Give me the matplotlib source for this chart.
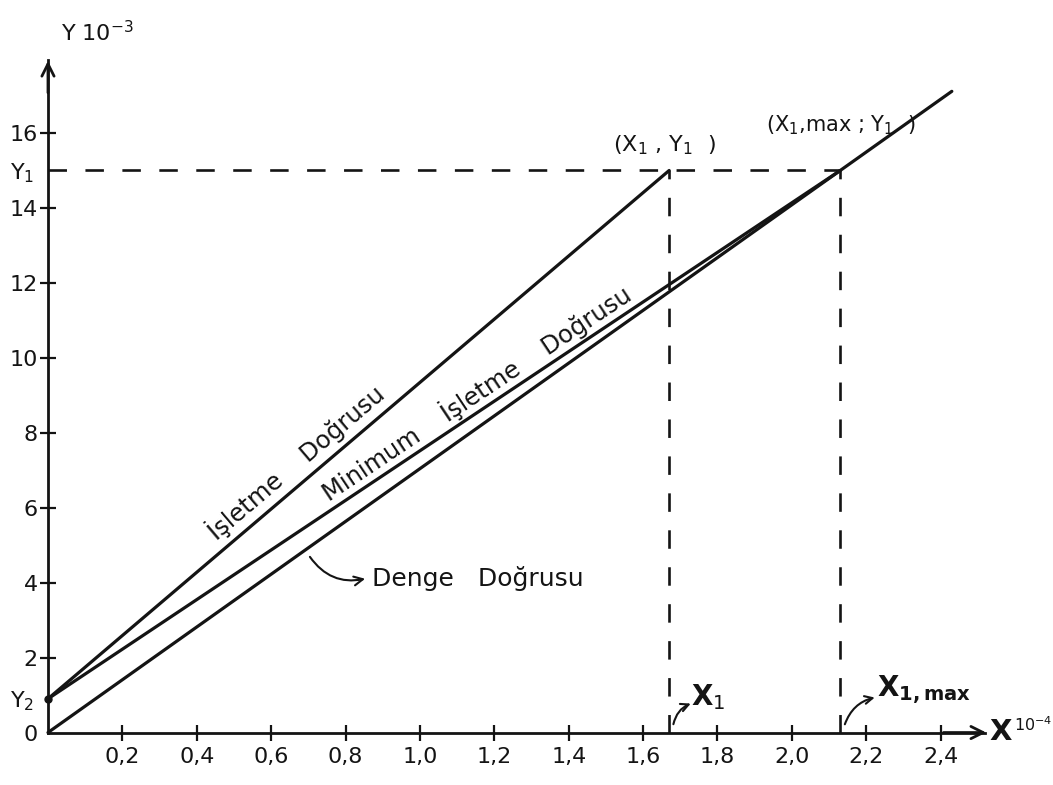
import numpy as np
import matplotlib.pyplot as plt

# ---- values (X in 1e-4, Y in 1e-3) ----
x1 = 1.67          # X1
x1_max = 2.13      # X1,max
y1 = 15.0          # Y1
y2 = 0.9           # Y2
x_end_denge = 2.43

x_ticks = [0.2, 0.4, 0.6, 0.8, 1.0, 1.2, 1.4, 1.6, 1.8, 2.0, 2.2, 2.4]
x_labels = ["0,2", "0,4", "0,6", "0,8", "1,0", "1,2", "1,4", "1,6", "1,8", "2,0", "2,2", "2,4"]
y_ticks = [0, 2, 4, 6, 8, 10, 12, 14, 16]
y_labels = ["0", "2", "4", "6", "8", "10", "12", "14", "16"]

# lines
islet_x = [0, x1]
islet_y = [y2, y1]
min_x = [0, x1_max]
min_y = [y2, y1]
denge_slope = y1 / x1_max
denge_x = [0, x_end_denge]
denge_y = [0, denge_slope * x_end_denge]

ink = "#141414"
FS = 16

fig = plt.figure(figsize=(10.53, 7.85), dpi=100)
ax = fig.add_axes([0, 0, 1, 1])
ax.set_xlim(-0.129, 2.702)
ax.set_ylim(-1.40, 19.55)

# =========================
# AXES
# =========================
for s in ["top", "right"]:
    ax.spines[s].set_visible(False)
ax.spines["left"].set_position(("data", 0))
ax.spines["bottom"].set_position(("data", 0))
ax.spines["left"].set_bounds(0, 17.95)
ax.spines["bottom"].set_bounds(0, 2.52)
for s in ["left", "bottom"]:
    ax.spines[s].set_linewidth(2.0)
    ax.spines[s].set_color(ink)

ax.set_xticks(x_ticks)
ax.set_xticklabels(x_labels)
ax.set_yticks(y_ticks)
ax.set_yticklabels(y_labels)
ax.tick_params(direction="inout", length=11, width=1.6, colors=ink, labelsize=FS)
ax.tick_params(axis="y", pad=2)
ax.tick_params(axis="x", pad=5)
ax.yaxis.get_major_ticks()[0].tick1line.set_visible(False)

# Y1, Y2 labels as minor ticks
ax.set_yticks([y2, y1], minor=True)
ax.set_yticklabels(["Y$_2$", "Y$_1$"], minor=True)
ax.tick_params(axis="y", which="minor", length=0, labelsize=FS, colors=ink, pad=10)

# arrow heads
ax.annotate("", xy=(0, 18.0), xytext=(0, 17.0),
            arrowprops=dict(arrowstyle="->", lw=2.0, color=ink, mutation_scale=22))
ax.annotate("", xy=(2.53, 0), xytext=(2.40, 0),
            arrowprops=dict(arrowstyle="->", lw=2.0, color=ink, mutation_scale=22))

ax.text(0.035, 18.35, "Y 10$^{-3}$", fontsize=FS, color=ink, ha="left", va="bottom")
ax.text(2.53, 0.02, "X", fontsize=21, fontweight="bold", color=ink, ha="left", va="center")
ax.text(2.596, 0.2, "10$^{-4}$", fontsize=11.5, color=ink, ha="left", va="center")

# =========================
# LINES
# =========================
ax.plot(islet_x, islet_y, color=ink, lw=2.3, solid_capstyle="round")
ax.plot(min_x, min_y, color=ink, lw=2.3, solid_capstyle="round")
ax.plot(denge_x, denge_y, color=ink, lw=2.3, solid_capstyle="round")
ax.plot([0], [y2], "o", color=ink, ms=5)

# dashed guides
ax.plot([0, x1_max], [y1, y1], color=ink, lw=1.9, linestyle=(0, (7, 7)))
ax.plot([x1, x1], [0, y1], color=ink, lw=1.9, linestyle=(0, (7, 7)))
ax.plot([x1_max, x1_max], [0, y1], color=ink, lw=1.9, linestyle=(0, (7, 7)))

# =========================
# LABELS
# =========================
ang_islet = np.degrees(np.arctan((y1 - y2) / x1))
ang_min = np.degrees(np.arctan((y1 - y2) / x1_max))

ax.text(0.455, 5.1, "İşletme    Doğrusu", fontsize=17.5, color=ink,
        rotation=ang_islet, rotation_mode="anchor", transform_rotates_text=True,
        ha="left", va="baseline")
ax.text(0.755, 6.15, "Minimum    İşletme    Doğrusu", fontsize=17.5, color=ink,
        rotation=ang_min, rotation_mode="anchor", transform_rotates_text=True,
        ha="left", va="baseline")

ax.text(0.87, 4.1, "Denge   Doğrusu", fontsize=18, color=ink, ha="left", va="center")
ax.annotate("", xy=(0.86, 4.12), xytext=(0.70, 4.75),
            arrowprops=dict(arrowstyle="->", lw=1.5, color=ink,
                            connectionstyle="arc3,rad=0.35", mutation_scale=16))

ax.text(1.52, 15.35, "(X$_1$ , Y$_1$  )", fontsize=FS, color=ink, ha="left", va="bottom")
ax.text(1.93, 15.9, "(X$_1$,max ; Y$_1$  )", fontsize=FS - 1, color=ink, ha="left", va="bottom")

ax.text(1.73, 0.95, "X$_1$", fontsize=20, fontweight="bold", color=ink, ha="left", va="center")
ax.annotate("", xy=(1.735, 0.8), xytext=(x1 + 0.01, 0.15),
            arrowprops=dict(arrowstyle="->", lw=1.5, color=ink,
                            connectionstyle="arc3,rad=-0.3", mutation_scale=14))
ax.text(2.23, 1.15, r"X$_{\mathregular{1,max}}$", fontsize=20, fontweight="bold", color=ink,
        ha="left", va="center")
ax.annotate("", xy=(2.23, 0.95), xytext=(x1_max + 0.01, 0.15),
            arrowprops=dict(arrowstyle="->", lw=1.5, color=ink,
                            connectionstyle="arc3,rad=-0.3", mutation_scale=14))

fig.savefig("out.png", dpi=100, facecolor="white")
